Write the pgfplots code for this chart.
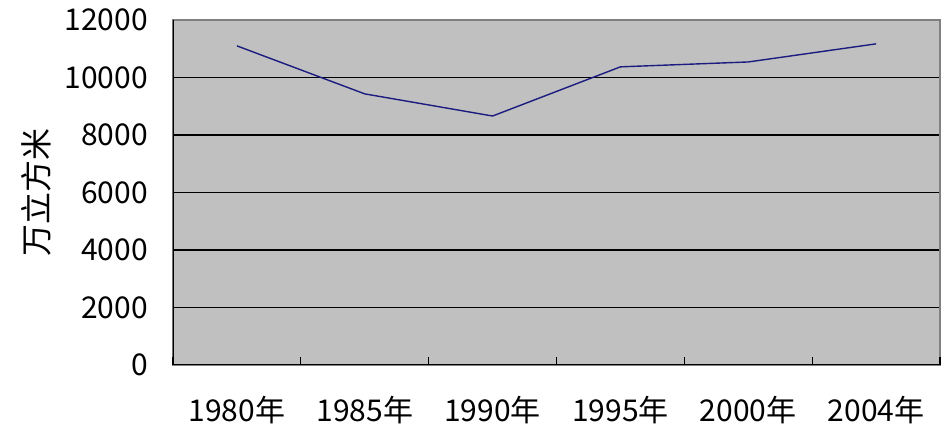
\documentclass[border=0pt]{standalone}
\usepackage{fontspec}
\setmainfont{Noto Sans CJK SC}
\usepackage{pgfplots}
\pgfplotsset{compat=1.18}
\definecolor{plotbg}{HTML}{C0C0C0}
\definecolor{linenavy}{HTML}{1C1C80}
\definecolor{framegray}{HTML}{808080}

\begin{document}
\begin{tikzpicture}
\useasboundingbox (0,0) rectangle (472pt,213pt);
\begin{axis}[
  at={(86.5pt,30.5pt)}, anchor=south west,
  scale only axis, width=383.5pt, height=172.5pt,
  xmin=-0.5, xmax=5.5, ymin=0, ymax=12000,
  axis background/.style={fill=plotbg},
  axis line style={draw=framegray, line width=0.6pt},
  xtick={0,1,2,3,4,5},
  xticklabels={1980年,1985年,1990年,1995年,2000年,2004年},
  xtick pos=lower, major tick length=0pt,
  extra x ticks={-0.5,0.5,1.5,2.5,3.5,4.5,5.5},
  extra x tick labels={},
  extra x tick style={tick align=inside, major tick length=4pt, tick style={black, line width=0.6pt}},
  ytick={0,2000,...,12000},
  ytick style={draw=none},
  scaled y ticks=false,
  ymajorgrids, major grid style={black, line width=0.8pt},
  /pgf/number format/1000 sep={},
  /pgf/number format/assume math mode=true,
  tick label style={font=\fontsize{15}{17}\selectfont},
  yticklabel style={xshift=-9pt},
  xticklabel style={yshift=-12pt},
  ylabel={万立方米},
  ylabel style={at={(axis description cs:-0.178,0.5)}, anchor=center, font=\fontsize{16}{18}\selectfont},
]
\addplot[linenavy, line width=0.7pt] coordinates {(0,11100) (1,9430) (2,8660) (3,10370) (4,10540) (5,11170)};
\draw[black, line width=0.7pt] (rel axis cs:0,1) -- (rel axis cs:0,0) -- (rel axis cs:1,0);
\end{axis}
\end{tikzpicture}
\end{document}
